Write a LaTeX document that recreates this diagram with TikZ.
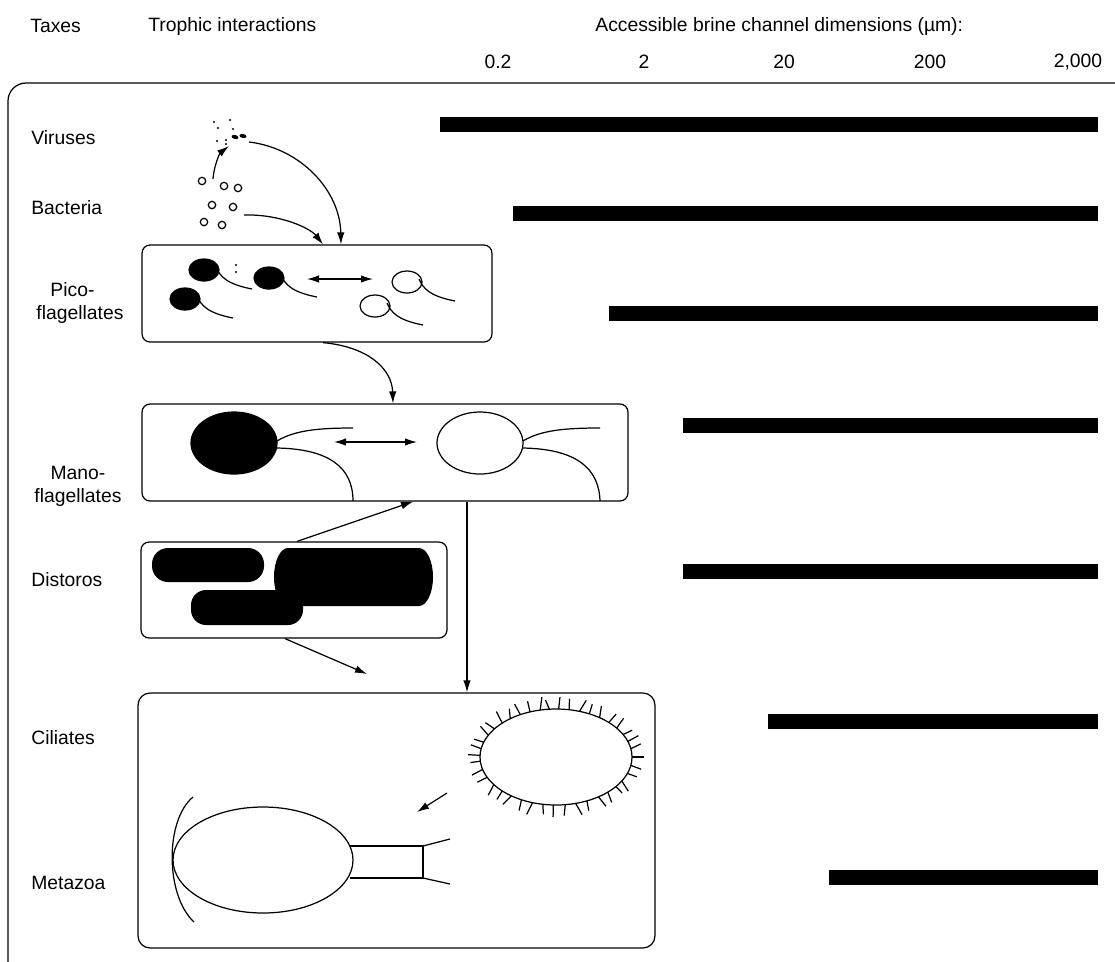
\documentclass[tikz,border=0pt]{standalone}
\usepackage{fontspec}
\setmainfont{Liberation Sans}
\usetikzlibrary{arrows.meta,calc}
\begin{document}
\begin{tikzpicture}[x=0.02cm,y=-0.02cm,
  lw/.style={line width=0.7pt},
  arr/.style={lw,-{Latex[length=2.4mm,width=1.5mm]}},
  darr/.style={lw,{Latex[length=2.4mm,width=1.5mm]}-{Latex[length=2.4mm,width=1.5mm]}},
  lbl/.style={font=\fontsize{11}{13}\selectfont,inner sep=0pt},
  taxon/.style={lbl,anchor=west},
  taxon2/.style={lbl,align=center},
  panel/.style={draw,lw,rounded corners=1.6mm,inner sep=0pt,fill=white},
  bar/.style={fill=black},
  cell/.style={lw},
  flag/.style={lw}
]
\useasboundingbox (0,0) rectangle (1115,961);
\begin{scope}
\clip (0,0) rectangle (1115,961);
% outer frame (only top and left edges fall inside the page)
\draw[lw,rounded corners=3.6mm] (1130,83) -- (8,83) -- (8,985) -- (60,985);
\end{scope}

% headings
\node[taxon] (hTax) at (30,26) {Taxes};
\node[taxon] (hTro) at (148,26) {Trophic interactions};
\node[taxon] (hAcc) at (595,26) {Accessible brine channel dimensions (µm):};
\node[lbl] (s1) at (498,62) {0.2};
\node[lbl] (s2) at (644,62) {2};
\node[lbl] (s3) at (784,62) {20};
\node[lbl] (s4) at (930,62) {200};
\node[lbl] (s5) at (1078,62) {2,000};

% taxa
\node[taxon] (tVir) at (31,138) {Viruses};
\node[taxon] (tBac) at (31,208) {Bacteria};
\node[taxon2] (tPic) at (80,303) {Pico-\hspace*{0.3cm}\\flagellates};
\node[taxon2] (tMan) at (78,486) {Mano-\\flagellates};
\node[taxon] (tDis) at (31,580) {Distoros};
\node[taxon] (tCil) at (31,738) {Ciliates};
\node[taxon] (tMet) at (31,883) {Metazoa};

% brine channel bars
\fill[bar] (440,117) rectangle (1098,132);
\fill[bar] (513,206) rectangle (1098,221);
\fill[bar] (609,306) rectangle (1098,321);
\fill[bar] (683,418) rectangle (1098,433);
\fill[bar] (683,564) rectangle (1098,579);
\fill[bar] (768,714) rectangle (1098,729);
\fill[bar] (829,870) rectangle (1098,885);

% panels
\node[panel,minimum width=7cm,minimum height=1.94cm] (picobox) at (317,293.5) {};
\node[panel,minimum width=9.72cm,minimum height=1.94cm] (manobox) at (385,452.5) {};
\node[panel,minimum width=6.12cm,minimum height=1.92cm] (distbox) at (294,590) {};
\node[panel,rounded corners=2.4mm,minimum width=10.34cm,minimum height=5.1cm] (cilbox) at (396.5,820.5) {};

% viruses
\foreach \p in {(214,122),(230,120),(218,128),(233,129),(217,141),(226,140),(226,144)}
  \fill \p circle (1.2);
\fill[rotate around={-15:(235,137)}] (235,137) ellipse (3.6 and 2);
\fill[rotate around={-10:(243,136)}] (243,136) ellipse (3.6 and 2);
\coordinate (virIn) at (229,146);
\coordinate (virOut) at (249,142);

% bacteria
\foreach \p in {(202,181),(224,186),(238,188),(212,205),(233,207),(204,222),(222,225)}
  \draw[lw] \p circle (3.7);
\coordinate (bacUp) at (213,179);
\coordinate (bacOut) at (244,215);

% picoflagellates: filled and open cells with flagella
\foreach \cx/\cy/\f in {204/270/black,269/278/black,185/299/black,407/282/white,375/306/white}{
  \draw[cell,fill=\f] (\cx,\cy) ellipse (15 and 11);
  \draw[flag] (\cx+12,\cy-3) .. controls (\cx+16,\cy+6) and (\cx+22,\cy+14) .. (\cx+48,\cy+19);
}
\fill (236,265) circle (1.2);
\fill (236,272) circle (1.2);
\coordinate (pA) at (307,279);
\coordinate (pB) at (373,279);
\draw[darr] (pA) -- (pB);

% nanoflagellates
\draw[cell,fill=black] (234,443) ellipse (43 and 31);
\draw[flag] (277,441) .. controls (295,430) and (320,428) .. (353,428);
\draw[flag] (277,448) .. controls (330,449) and (353,468) .. (353,501);
\draw[cell] (480,443) ellipse (43 and 31);
\draw[flag] (523,441) .. controls (541,430) and (566,428) .. (600,428);
\draw[flag] (523,448) .. controls (576,449) and (599,468) .. (600,501);
\coordinate (mA) at (334,442);
\coordinate (mB) at (417,442);
\draw[darr] (mA) -- (mB);

% diatoms
\fill[rounded corners=3.2mm] (152,548) rectangle (264,582);
\fill (288,548) -- (419,548) arc[start angle=-90,end angle=90,x radius=14,y radius=29]
  -- (288,606) arc[start angle=90,end angle=270,x radius=14,y radius=29] -- cycle;
\fill[rounded corners=3mm] (191,590) rectangle (303,625);

% ciliate with cilia
\draw[lw] (556,757) ellipse (76 and 48);
\foreach \a/\l/\t in {0/12/0,10/11/5,20/10/-10,30/12/15,38/9/-5,47/11/10,56/12/-15,66/10/5,
  75/13/-20,83/11/10,92/12/0,100/10/-10,108/13/15,117/11/-5,126/12/20,135/10/0,145/12/-15,
  155/11/10,165/12/-5,175/10/0,182/12/0,190/11/5,198/10/-10,207/12/10,216/11/-15,225/13/5,
  233/10/20,242/12/-10,250/11/0,258/13/15,265/10/-20,272/12/5,280/11/-5,288/13/20,296/10/0,
  305/12/-15,314/11/10,323/12/-5,332/10/15,341/12/0,350/11/-10}{
  \pgfmathsetmacro\nrm{atan2(76*sin(\a),48*cos(\a))}
  \draw[lw] ($(556,757)+(\a:76 and 48)$) -- ++(\nrm+\t:\l);
}

% metazoan (rotifer-like)
\draw[lw] (263,860) ellipse (90 and 53);
\draw[lw] (193,797) .. controls (165,820) and (165,895) .. (194,922);
\draw[lw] (350,846) -- (423,846) -- (423,878) -- (350,878);
\draw[lw] (423,846) -- (450,839);
\draw[lw] (423,878) -- (450,884);

% trophic links
\draw[arr] (bacUp) .. controls (214,165) and (220,153) .. (virIn);
\draw[arr] (virOut) .. controls (300,148) and (340,190) .. (341,0 |- picobox.north);
\draw[arr] (bacOut) .. controls (280,214) and (310,228) .. (323,0 |- picobox.north);
\draw[arr] (323,0 |- picobox.south) .. controls (370,347) and (392,370) .. (393,0 |- manobox.north);
\draw[arr] (297,0 |- distbox.north) -- (413,0 |- manobox.south);
\draw[arr] (467,0 |- manobox.south) -- (467,0 |- cilbox.north);
\coordinate (dEnd) at (367,674);
\draw[arr] (285,0 |- distbox.south) -- (dEnd);
\coordinate (cA) at (447,793);
\coordinate (cB) at (417,812);
\draw[arr] (cA) -- (cB);
\end{tikzpicture}
\end{document}
